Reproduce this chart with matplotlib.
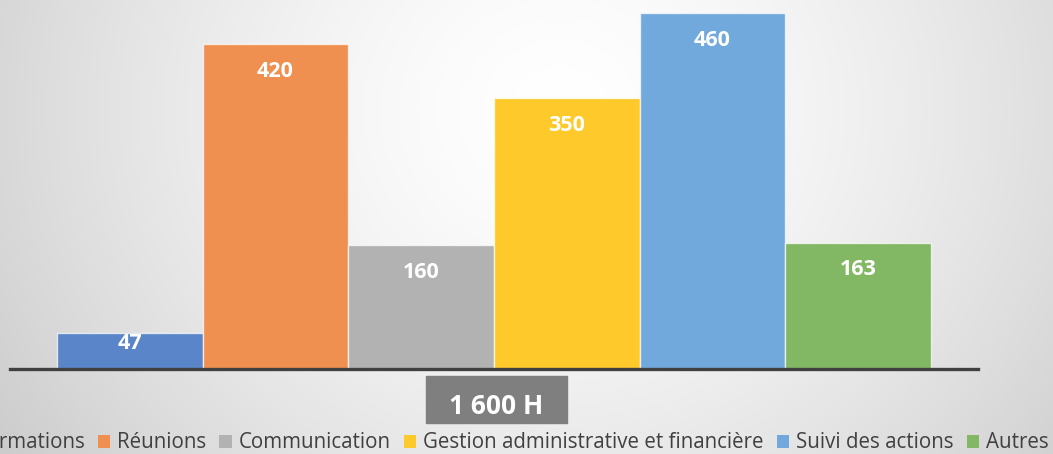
import numpy as np
import matplotlib
matplotlib.use("Agg")
import matplotlib.pyplot as plt
from matplotlib.patches import Patch

categories = ["Formations", "Réunions", "Communication",
              "Gestion administrative et financière", "Suivi des actions", "Autres"]
values = [47, 420, 160, 350, 460, 163]
total_label = "1 600 H"
colors = ["#5a85c8", "#ef8f50", "#b2b2b2", "#fec92a", "#72a9dc", "#82b764"]

plt.rcParams['font.family'] = ['Open Sans', 'DejaVu Sans']

W, H = 1053, 454
fig = plt.figure(figsize=(W / 100, H / 100), dpi=100)

# background radial gradient
bg = fig.add_axes([0, 0, 1, 1])
yy, xx = np.mgrid[0:H, 0:W]
d = np.hypot(xx - 560, (yy - 110) * 1.1) / 620.0
g = 255 - 45 * np.clip(d, 0, 1.3) ** 1.5
img = np.dstack([g, g, g]).astype(np.uint8)
bg.imshow(img, aspect='auto', extent=[0, 1, 0, 1], origin='upper')
bg.set_axis_off()

left = 10 / W
right = 978 / W
bottom = 1 - 369 / H
top = 1 - 13 / H
ax = fig.add_axes([left, bottom, right - left, top - bottom])
ax.patch.set_alpha(0)
x = np.arange(len(values))
ax.bar(x, values, width=1.0, color=colors, edgecolor=(1, 1, 1, 0.7), linewidth=1.0, zorder=2)
ax.set_xlim(-0.823, 5.823)
ax.set_ylim(0, 460)
for s in ['top', 'right', 'left']:
    ax.spines[s].set_visible(False)
ax.spines['bottom'].set_color('#404040')
ax.spines['bottom'].set_linewidth(2.4)
ax.spines['bottom'].set_zorder(3)
ax.set_xticks([])
ax.set_yticks([])

for xi, v in zip(x, values):
    yl = v - 35 if v - 35 > 40 else v - 13.5
    ax.text(xi, yl, str(v), ha='center', va='center', color='white',
            fontsize=15.5, fontweight='bold', zorder=4)

# total box
fig.patches.append(plt.Rectangle((426 / W, 1 - 423 / H), (567 - 426) / W, (423 - 376) / H,
                                 transform=fig.transFigure, color='#7f7f7f', zorder=5))
fig.text((426 + 567) / 2 / W, 1 - 406 / H, total_label, ha='center', va='center',
         color='white', fontsize=19, fontweight='bold', zorder=6)

handles = [Patch(facecolor=c, edgecolor='none') for c in colors]
fig.legend(handles, categories, loc='center right', bbox_to_anchor=(1049 / W, 1 - 443 / H),
           ncol=6, frameon=False, fontsize=14.8, handlelength=0.62, handleheight=0.62,
           handletextpad=0.34, columnspacing=0.62, labelcolor='#404040',
           borderaxespad=0, borderpad=0)

fig.savefig("out.png", dpi=100)
